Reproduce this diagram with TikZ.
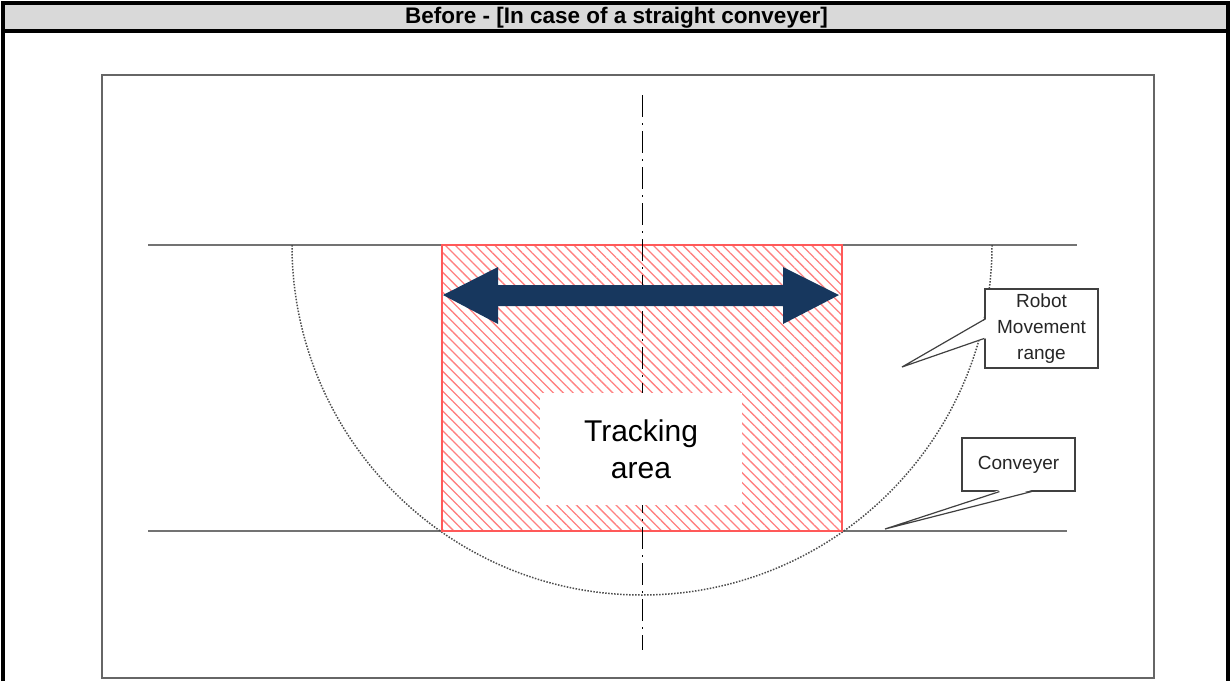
\documentclass[tikz,border=0pt]{standalone}
\usepackage{fontspec}
\setmainfont{Liberation Sans}
\usetikzlibrary{calc, patterns.meta}

\definecolor{navyarrow}{HTML}{17375E}
\definecolor{bandgray}{HTML}{D9D9D9}

\begin{document}
\begin{tikzpicture}[x=1pt, y=-1pt,
      frame/.style ={draw=black!60, line width=2.2pt},
      belt/.style  ={draw=black!55, line width=2.2pt},
      axis/.style  ={draw=black, line width=1pt, dash pattern=on 22pt off 6pt on 2pt off 6pt},
      reach/.style ={draw=black!70, line width=1.5pt, dash pattern=on 1.5pt off 1.5pt},
      area/.style  ={draw=red!65, line width=2pt, pattern={Lines[angle=-45, distance=7pt, line width=1.3pt]}, pattern color=red!50},
      callout/.style={draw=black!75, line width=1.2pt, fill=white, align=center, inner sep=0pt,
                      text=black!85, font=\fontsize{19}{26}\selectfont}
    ]
    \useasboundingbox (0,0) rectangle (1231,681);

    % Header band
    \fill[bandgray] (3,3) rectangle (1228,31);
    \draw[line width=4pt] (3,681) -- (3,3) -- (1228,3) -- (1228,681);
    \draw[line width=3.5pt] (3,31) -- (1228,31);
    \node[font=\bfseries\fontsize{22.5}{24}\selectfont] (title) at (616.5,17.5) {Before - [In case of a straight conveyer]};

    % Drawing frame and conveyer
    \draw[frame] (102,75) rectangle (1154,678);
    \draw[belt] (148,245) -- (1077,245);
    \draw[belt] (148,531) -- (1067,531);

    % Robot reach
    \draw[reach] (292,245) arc[start angle=180, end angle=0, radius=350];

    % Tracking area
    \draw[area] (442,245) rectangle (842,531);
    \draw[axis] (642,95) -- (642,650);
    \fill[navyarrow] (443,295) -- (498,267) -- (498,285) -- (783,285) -- (783,267) -- (839,295)
      -- (783,324) -- (783,306) -- (498,306) -- (498,324) -- cycle;
    \node[fill=white, minimum width=202, minimum height=112, align=center,
          font=\fontsize{30}{37}\selectfont] (track) at (641,449) {Tracking\\area};

    % Callouts
    \node[callout, minimum width=113, minimum height=79] (robot) at (1041.5,328.5) {Robot\\Movement\\range};
    \coordinate (robottip) at (902,367);
    \fill[white] ($(robot.north west)+(1.5,31)$) -- (robottip) -- ($(robot.north west)+(1.5,50)$) -- cycle;
    \draw[black!75, line width=1.2pt] ($(robot.north west)+(0,31)$) -- (robottip) -- ($(robot.north west)+(0,50)$);

    \node[callout, minimum width=113, minimum height=53] (conv) at (1018.5,464.5) {Conveyer};
    \coordinate (convtip) at (885,529);
    \fill[white] ($(conv.south west)+(38,-1.5)$) -- (convtip) -- ($(conv.south west)+(70,-1.5)$) -- cycle;
    \draw[black!75, line width=1.2pt] ($(conv.south west)+(38,0)$) -- (convtip) -- ($(conv.south west)+(70,0)$);
  \end{tikzpicture}
\end{document}
